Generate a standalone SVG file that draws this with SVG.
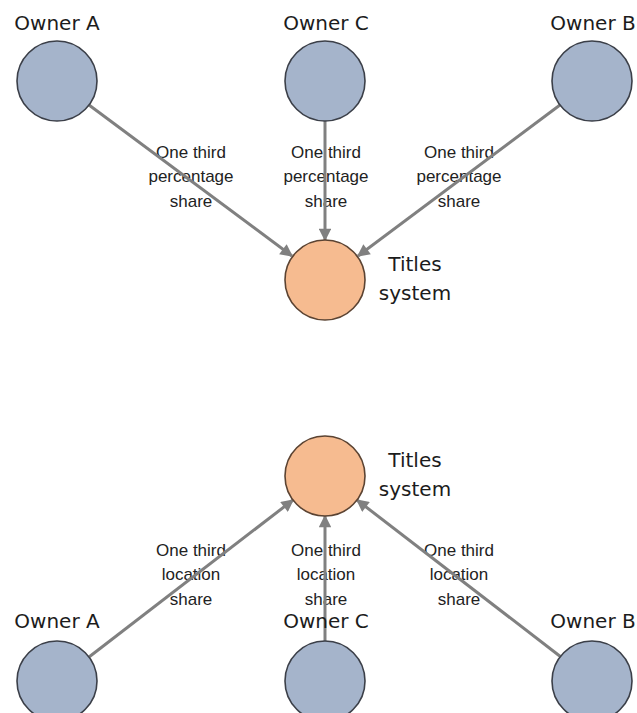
<svg xmlns="http://www.w3.org/2000/svg" width="637" height="713" viewBox="0 0 637 713">
<style>
.owner{fill:#a5b4cb;stroke:#3b3f48;stroke-width:1.6}
.title{fill:#f6bb90;stroke:#5b4332;stroke-width:1.6}
.nl{font-family:"DejaVu Sans","Liberation Sans",sans-serif;font-size:20px;fill:#1c1c1c;text-anchor:middle}
.el{font-family:"Liberation Sans",Arial,sans-serif;font-size:17px;fill:#222;text-anchor:middle}
.edge{stroke:#808080;stroke-width:3;fill:none;marker-end:url(#ah)}
</style>
<defs>
<marker id="ah" viewBox="0 0 10 10" refX="9" refY="5" markerWidth="5" markerHeight="4.2" orient="auto" markerUnits="strokeWidth">
<path d="M0,0 L10,5 L0,10 Z" fill="#808080"/>
</marker>
</defs>
<rect width="637" height="713" fill="#ffffff"/>

<g id="labels">
<text class="el" x="191" y="158">One third</text>
<text class="el" x="191" y="182">percentage</text>
<text class="el" x="191" y="207">share</text>
<text class="el" x="326" y="158">One third</text>
<text class="el" x="326" y="182">percentage</text>
<text class="el" x="326" y="207">share</text>
<text class="el" x="459" y="158">One third</text>
<text class="el" x="459" y="182">percentage</text>
<text class="el" x="459" y="207">share</text>
<text class="el" x="191" y="556">One third</text>
<text class="el" x="191" y="580">location</text>
<text class="el" x="191" y="605">share</text>
<text class="el" x="326" y="556">One third</text>
<text class="el" x="326" y="580">location</text>
<text class="el" x="326" y="605">share</text>
<text class="el" x="459" y="556">One third</text>
<text class="el" x="459" y="580">location</text>
<text class="el" x="459" y="605">share</text>
</g>

<g id="connectors">
<line class="edge" x1="89" y1="105" x2="292" y2="256"/>
<line class="edge" x1="325" y1="121" x2="325" y2="240"/>
<line class="edge" x1="560" y1="105" x2="358" y2="256"/>
<line class="edge" x1="89" y1="657" x2="293" y2="500"/>
<line class="edge" x1="325" y1="641" x2="325" y2="516"/>
<line class="edge" x1="561" y1="657" x2="357" y2="500"/>
</g>

<g id="ownerA-top"><circle class="owner" cx="57" cy="81" r="40"/><text class="nl" x="57" y="30">Owner A</text></g>
<g id="ownerC-top"><circle class="owner" cx="325" cy="81" r="40"/><text class="nl" x="326" y="30">Owner C</text></g>
<g id="ownerB-top"><circle class="owner" cx="592" cy="81" r="40"/><text class="nl" x="593" y="30">Owner B</text></g>
<g id="titles-top"><circle class="title" cx="325" cy="280" r="40"/><text class="nl" x="415" y="271">Titles</text><text class="nl" x="415" y="300">system</text></g>

<g id="titles-bottom"><circle class="title" cx="325" cy="476" r="40"/><text class="nl" x="415" y="467">Titles</text><text class="nl" x="415" y="496">system</text></g>
<g id="ownerA-bottom"><circle class="owner" cx="57" cy="681" r="40"/><text class="nl" x="57" y="628">Owner A</text></g>
<g id="ownerC-bottom"><circle class="owner" cx="325" cy="681" r="40"/><text class="nl" x="326" y="628">Owner C</text></g>
<g id="ownerB-bottom"><circle class="owner" cx="592" cy="681" r="40"/><text class="nl" x="593" y="628">Owner B</text></g>
</svg>
